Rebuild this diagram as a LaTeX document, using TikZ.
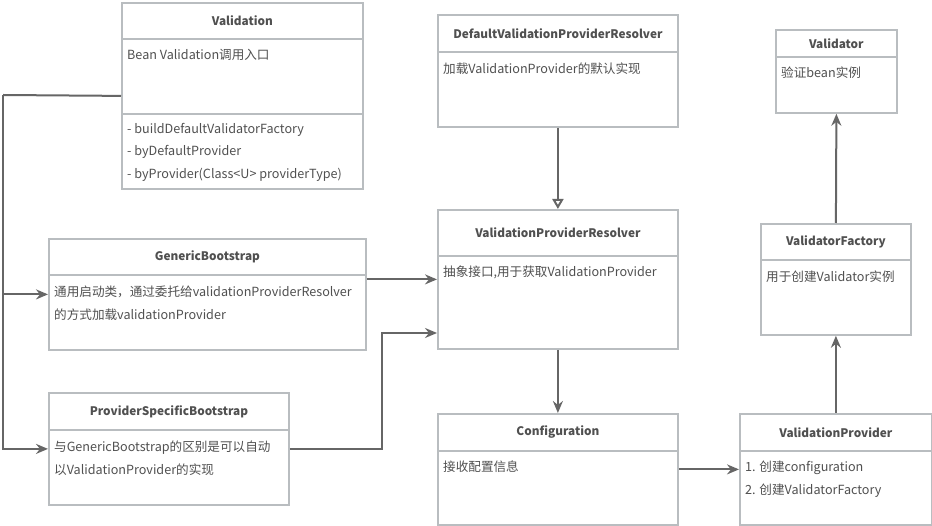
\documentclass[tikz,border=0pt]{standalone}
\usepackage{fontspec}
\setmainfont{Noto Sans CJK SC}
\usetikzlibrary{arrows.meta}

\definecolor{boxgray}{HTML}{B9BDC0}
\definecolor{linegray}{HTML}{666666}
\definecolor{textgray}{HTML}{505050}

\tikzset{
  box/.style={draw=boxgray, line width=1.8pt, inner sep=0pt, anchor=north west},
  head/.style={box, font=\fontsize{11.8}{15}\selectfont\bfseries, text=textgray},
  body/.style={inner sep=0pt, anchor=north west, align=left, text=textgray,
               font=\fontsize{12.6}{22.5}\selectfont, execute at begin node=\strut},
  conn/.style={draw=linegray, line width=2pt},
  arr/.style={conn, -{Stealth[length=12pt, width=10pt, inset=4pt]}},
  opentip/.style={conn, -{Triangle[open, length=10pt, width=11pt, fill=white]}}
}

\begin{document}
\begin{tikzpicture}[x=1pt, y=-1pt]

\fill[white] (0,0) rectangle (932,526);
\useasboundingbox (0,0) rectangle (932,526);

%boxes
\node[box, minimum width=241, minimum height=186] (valid) at (121,2) {};
\node[head, minimum width=241, minimum height=36] (valid-t) at (valid.north west) {Validation};
\node[box, minimum width=241, minimum height=75, anchor=south west] (valid-m) at (valid.south west) {};
%
\node[box, minimum width=240, minimum height=112] (dvpr) at (437,14) {};
\node[head, minimum width=240, minimum height=37] (dvpr-t) at (dvpr.north west) {DefaultValidationProviderResolver};
%
\node[box, minimum width=240, minimum height=139] (vpr) at (437,209) {};
\node[head, minimum width=240, minimum height=46] (vpr-t) at (vpr.north west) {ValidationProviderResolver};
%
\node[box, minimum width=240, minimum height=111] (conf) at (437,413) {};
\node[head, minimum width=240, minimum height=37] (conf-t) at (conf.north west) {Configuration};
%
\node[box, minimum width=192, minimum height=111] (vp) at (739,413) {};
\node[head, minimum width=192, minimum height=37] (vp-t) at (vp.north west) {ValidationProvider};
%
\node[box, minimum width=150, minimum height=111] (vf) at (760,223) {};
\node[head, minimum width=150, minimum height=36] (vf-t) at (vf.north west) {ValidatorFactory};
%
\node[box, minimum width=121, minimum height=83] (vtor) at (775,29) {};
\node[head, minimum width=121, minimum height=27] (vtor-t) at (vtor.north west) {Validator};
%
\node[box, minimum width=317, minimum height=111] (gen) at (48,238) {};
\node[head, minimum width=317, minimum height=36] (gen-t) at (gen.north west) {GenericBootstrap};
%
\node[box, minimum width=240, minimum height=112] (psb) at (48,392) {};
\node[head, minimum width=240, minimum height=37] (psb-t) at (psb.north west) {ProviderSpecificBootstrap};

%texts
\node[body] (valid-b) at (127,44) {Bean Validation调用入口};
\node[body] (valid-mb) at (127,123) {- buildDefaultValidatorFactory\\- byDefaultProvider\\- byProvider(Class<U> providerType)};
\node[body] (dvpr-b) at (443,58) {加载ValidationProvider的默认实现};
\node[body] (vpr-b) at (443,261) {抽象接口,用于获取ValidationProvider};
\node[body] (conf-b) at (443,456) {接收配置信息};
\node[body] (vp-b) at (745,461) {1. 创建configuration\\2. 创建ValidatorFactory};
\node[body] (vf-b) at (766,266) {用于创建Validator实例};
\node[body] (vtor-b) at (781,62) {验证bean实例};
\node[body] (gen-b) at (54,286) {通用启动类，通过委托给validationProviderResolver\\的方式加载validationProvider};
\node[body] (psb-b) at (54,441) {与GenericBootstrap的区别是可以自动\\以ValidationProvider的实现};

%connectors
\coordinate (bus) at (3,95);
\coordinate (kink) at (382,333);
\draw[conn] (valid.west) -- (bus);
\draw[arr] (bus) |- (psb.west);
\draw[arr] (bus |- gen.west) -- (gen.west);
\draw[arr] (gen.east |- vpr.west) -- (vpr.west);
\draw[arr] (psb.east) -| (kink) -- (vpr.west |- kink);
\draw[opentip] (dvpr.south) -- (vpr.north);
\draw[arr] (vpr.south) -- (conf.north);
\draw[arr] (conf.east) -- (vp.west);
\draw[arr] (vp.north) -- (vf.south);
\draw[arr] (vf.north) -- (vtor.south);

\end{tikzpicture}
\end{document}
